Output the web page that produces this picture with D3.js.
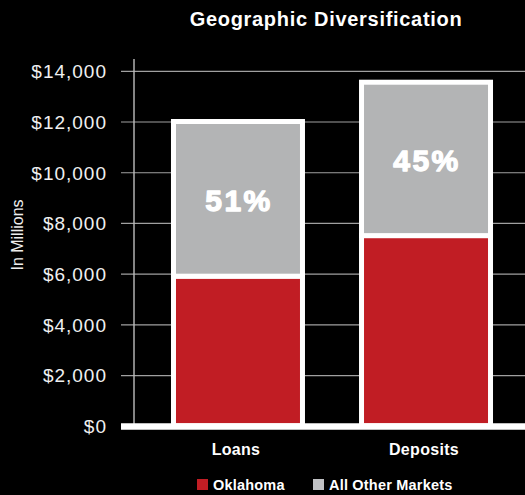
<!DOCTYPE html>
<html>
<head>
<meta charset="utf-8">
<script src="https://cdn.jsdelivr.net/npm/d3@7"></script>
<style>
  html, body { margin: 0; padding: 0; background: #000; }
  svg { display: block; font-family: "Liberation Sans", Arial, Helvetica, sans-serif; }
</style>
</head>
<body>
<svg id="chart" width="525" height="495"></svg>
<script>
// Deposit and loan balances, $ millions
const categories = ["Loans", "Deposits"];
const seriesNames = ["Oklahoma", "All Other Markets"];
const oklahoma = [5900, 7500];
const otherMarkets = [6100, 6050];
const yTicks = [0, 2000, 4000, 6000, 8000, 10000, 12000, 14000];
const colors = ["#c11d24", "#b3b4b5"];
const legendColors = ["#c11d24", "#c0c1c4"];

const svg = d3.select("#chart");
const W = 525, H = 495;
svg.append("rect").attr("width", W).attr("height", H).attr("fill", "#000");

const y = d3.scaleLinear().domain([0, 14000]).range([425.8, 70.8]);
const x = d3.scaleBand().domain(categories).range([134, 530])
  .paddingInner(0.314).paddingOuter(0.21);

// Title
svg.append("text")
  .attr("x", 326).attr("y", 26)
  .attr("text-anchor", "middle")
  .attr("fill", "#fff")
  .attr("font-weight", "bold")
  .attr("font-size", 20)
  .attr("letter-spacing", 0.7)
  .text("Geographic Diversification");

// Horizontal gridlines with tick labels
const yAxis = d3.axisLeft(y).tickValues(yTicks)
  .tickSize(-(W - 121))
  .tickPadding(14)
  .tickFormat(d => "$" + d3.format(",")(d));
const gAxis = svg.append("g").attr("transform", "translate(121,0)").call(yAxis);
gAxis.select(".domain").remove();
gAxis.selectAll(".tick line").attr("stroke", "#a0a0a0").attr("stroke-width", 1.2);
gAxis.selectAll(".tick text")
  .attr("fill", "#f0f0f0")
  .attr("font-size", 19)
  .attr("letter-spacing", 1)
  .attr("font-family", "'Liberation Sans', Arial, sans-serif")
  .attr("dy", "0.36em");

// Vertical axis line
svg.append("line")
  .attr("x1", 134).attr("x2", 134)
  .attr("y1", 59).attr("y2", y(0))
  .attr("stroke", "#bdbdbd").attr("stroke-width", 1.4);

// Y axis title
svg.append("text")
  .attr("transform", `translate(22.5,${235}) rotate(-90)`)
  .attr("text-anchor", "middle")
  .attr("fill", "#eee")
  .attr("font-size", 16)
  .text("In Millions");

// Stacked bars
const rows = categories.map((c, i) => ({ cat: c, Oklahoma: oklahoma[i], "All Other Markets": otherMarkets[i] }));
const stacked = d3.stack().keys(seriesNames)(rows);

svg.append("g").selectAll("g")
  .data(stacked)
  .join("g")
  .attr("fill", (d, i) => colors[i])
  .selectAll("rect")
  .data(d => d)
  .join("rect")
  .attr("x", d => x(d.data.cat))
  .attr("width", x.bandwidth())
  .attr("y", d => y(d[1]))
  .attr("height", d => y(d[0]) - y(d[1]))
  .attr("stroke", "#fff")
  .attr("stroke-width", 5);

// Share of balances outside Oklahoma
const share = stacked[1];
svg.append("g").selectAll("text")
  .data(share)
  .join("text")
  .attr("x", d => x(d.data.cat) + x.bandwidth() / 2 + 1)
  .attr("y", d => (y(d[0]) + y(d[1])) / 2 + 12.5)
  .attr("text-anchor", "middle")
  .attr("fill", "#fff")
  .attr("stroke", "#fff")
  .attr("stroke-width", 1.3)
  .attr("stroke-linejoin", "round")
  .attr("font-weight", "bold")
  .attr("font-size", 30)
  .attr("letter-spacing", 2.5)
  .text(d => Math.round(100 * (d[1] - d[0]) / d[1]) + "%");

// Baseline
svg.append("line")
  .attr("x1", 121).attr("x2", W)
  .attr("y1", y(0) + 0.6).attr("y2", y(0) + 0.6)
  .attr("stroke", "#fff").attr("stroke-width", 6.5);

// Category labels
svg.append("g").selectAll("text")
  .data(categories)
  .join("text")
  .attr("x", d => x(d) + x.bandwidth() / 2 - 2)
  .attr("y", 455)
  .attr("text-anchor", "middle")
  .attr("fill", "#fff")
  .attr("font-weight", "bold")
  .attr("font-size", 16)
  .attr("letter-spacing", 0.3)
  .text(d => d);

// Legend
const legendX = [197, 313];
const legend = svg.append("g").selectAll("g")
  .data(seriesNames)
  .join("g")
  .attr("transform", (d, i) => `translate(${legendX[i]},479)`);
legend.append("rect")
  .attr("width", 11).attr("height", 11)
  .attr("fill", (d, i) => legendColors[i]);
legend.append("text")
  .attr("x", 16).attr("y", 11)
  .attr("fill", "#fff")
  .attr("font-weight", "bold")
  .attr("font-size", 14.5)
  .attr("letter-spacing", 0.2)
  .text(d => d);
</script>
</body>
</html>
